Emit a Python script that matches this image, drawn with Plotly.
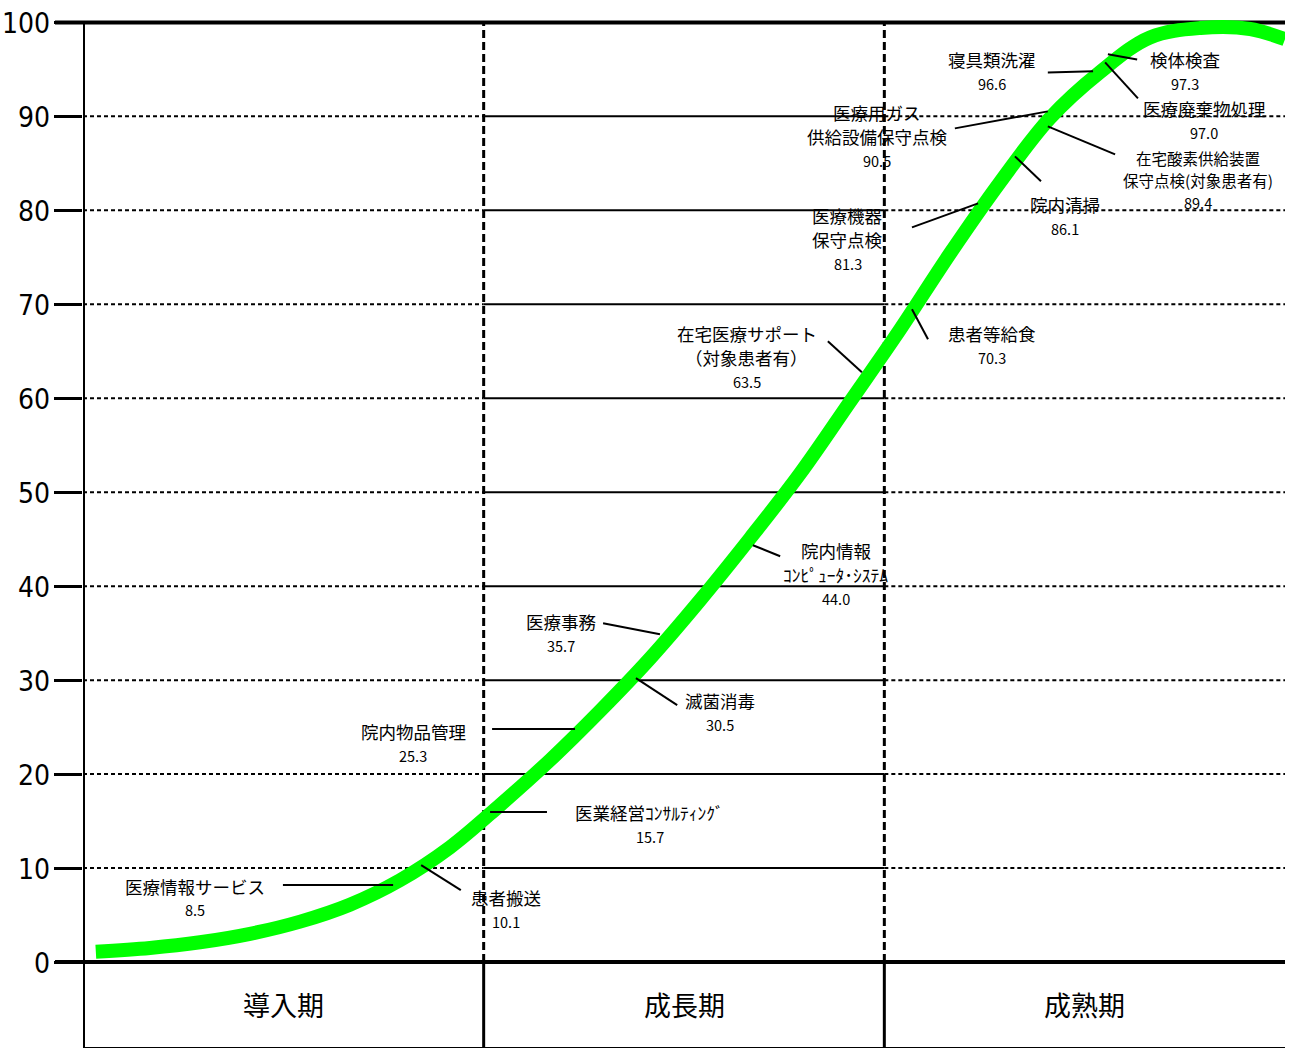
import plotly.graph_objects as go

# ---------------- data ----------------
stage_names = ["導入期", "成長期", "成熟期"]
y_tick_values = [0, 10, 20, 30, 40, 50, 60, 70, 80, 90, 100]

# S-curve (x in stage units 0..3, y in %)
curve_x = [0.032, 0.167, 0.292, 0.417, 0.542, 0.666, 0.791, 0.916, 1.041, 1.166,
           1.290, 1.415, 1.540, 1.665, 1.790, 1.914, 2.039, 2.164, 2.289, 2.413,
           2.538, 2.663, 2.789, 2.913, 3.000]
curve_y = [1.1, 1.5, 2.1, 3.0, 4.3, 6.1, 8.7, 12.2, 16.7, 21.5,
           26.7, 32.3, 38.5, 45.1, 52.0, 59.6, 67.3, 75.4, 83.0, 89.8,
           94.7, 98.4, 99.4, 99.3, 98.2]

item_names = [["医療情報サービス"], ["患者搬送"], ["医業経営ｺﾝｻﾙﾃｨﾝｸﾞ"], ["院内物品管理"],
              ["滅菌消毒"], ["医療事務"], ["院内情報", "ｺﾝﾋﾟｭｰﾀ･ｼｽﾃﾑ"],
              ["在宅医療サポート", "（対象患者有）"], ["患者等給食"], ["医療機器", "保守点検"],
              ["院内清掃"], ["医療用ガス", "供給設備保守点検"],
              ["在宅酸素供給装置", "保守点検(対象患者有)"], ["寝具類洗濯"], ["検体検査"],
              ["医療廃棄物処理"]]
item_values = [8.5, 10.1, 15.7, 25.3, 30.5, 35.7, 44.0, 63.5, 70.3, 81.3, 86.1,
               90.5, 89.4, 96.6, 97.3, 97.0]

# ---------------- label placement (layout only) ----------------
# (label x, first line y, line step, leader x0, y0, x1, y1, name font size)
placement = [
    (0.280, 8.09, 2.55, 0.499, 8.19, 0.774, 8.19, 17.5),
    (1.056, 6.91, 2.55, 0.844, 10.32, 0.943, 7.66, 17.5),
    (1.415, 15.96, 2.55, 1.016, 15.96, 1.158, 15.96, 17.5),
    (0.824, 24.57, 2.55, 1.021, 24.79, 1.228, 24.79, 17.5),
    (1.590, 27.87, 2.55, 1.380, 30.21, 1.483, 27.34, 17.5),
    (1.193, 36.28, 2.55, 1.298, 36.06, 1.440, 34.89, 17.5),
    (1.879, 43.83, 2.55, 1.672, 44.36, 1.740, 43.19, 17.5),
    (1.657, 66.91, 2.55, 1.859, 66.06, 1.944, 62.77, 17.5),
    (2.269, 66.91, 2.55, 2.069, 69.47, 2.109, 66.28, 17.5),
    (1.909, 79.47, 2.55, 2.069, 78.19, 2.234, 80.74, 17.5),
    (2.451, 80.64, 2.55, 2.326, 85.74, 2.391, 83.09, 17.5),
    (1.982, 90.43, 2.55, 2.176, 88.72, 2.408, 90.53, 17.5),
    (2.783, 85.53, 2.34, 2.408, 88.94, 2.576, 85.96, 15.5),
    (2.269, 96.06, 2.55, 2.408, 94.68, 2.521, 94.79, 17.5),
    (2.750, 96.06, 2.55, 2.558, 96.60, 2.631, 96.06, 17.5),
    (2.798, 90.85, 2.55, 2.551, 95.74, 2.633, 91.91, 17.5),
]

JP = "Noto Sans CJK JP"
NUM = "Liberation Sans Narrow, DejaVu Sans Condensed, Arial Narrow, sans-serif"
Y_BOTTOM = -9.15
Y_TOP = 101.0
PLOT_W = 1202

fig = go.Figure()

fig.add_trace(go.Scatter(
    x=curve_x, y=curve_y, mode="lines",
    line=dict(color="#00FF00", width=14, shape="spline", smoothing=1.0),
    hoverinfo="skip", showlegend=False,
))

shapes = []
# horizontal grid: dashed in stage 1 & 3, solid in stage 2
for v in y_tick_values[1:-1]:
    for s in range(3):
        shapes.append(dict(
            type="line", xref="x", yref="y", x0=s, x1=s + 1, y0=v, y1=v,
            line=dict(color="black", width=2, dash="solid" if s == 1 else "4px,3px"),
            layer="below"))
# 0 and 100 lines (thick, extend through tick area)
for v in (0, 100):
    shapes.append(dict(type="line", xref="paper", yref="y", x0=-28 / PLOT_W, x1=1,
                       y0=v, y1=v, line=dict(color="black", width=4), layer="below"))
# stage separators
for s in (1, 2):
    shapes.append(dict(type="line", xref="x", yref="y", x0=s, x1=s, y0=0, y1=100,
                       line=dict(color="black", width=3, dash="8px,4px"), layer="below"))
    shapes.append(dict(type="line", xref="x", yref="y", x0=s, x1=s, y0=Y_BOTTOM, y1=0,
                       line=dict(color="black", width=3), layer="below"))
# left axis line
shapes.append(dict(type="line", xref="x", yref="y", x0=0, x1=0, y0=Y_BOTTOM, y1=100,
                   line=dict(color="black", width=4), layer="below"))
# bottom line
shapes.append(dict(type="line", xref="x", yref="y", x0=0, x1=3, y0=Y_BOTTOM, y1=Y_BOTTOM,
                   line=dict(color="black", width=2), layer="below"))

annotations = []
for lines, val, p in zip(item_names, item_values, placement):
    lx, ly, step, x0, y0, x1, y1, fs = p
    shapes.append(dict(type="line", xref="x", yref="y", x0=x0, y0=y0, x1=x1, y1=y1,
                       line=dict(color="black", width=2), layer="above"))
    for k, t in enumerate(lines + [f"{val:.1f}"]):
        is_val = k == len(lines)
        annotations.append(dict(
            x=lx, y=ly - k * step, xref="x", yref="y", showarrow=False, text=t,
            font=dict(family=JP, size=14.5 if is_val else fs, color="black"),
            xanchor="center", yanchor="middle", align="center"))

for i, st in enumerate(stage_names):
    annotations.append(dict(
        x=i + 0.5, y=-4.57, xref="x", yref="y", showarrow=False, text=st,
        font=dict(family=JP, size=27, color="black"),
        xanchor="center", yanchor="middle"))

# y tick labels
for v in y_tick_values:
    annotations.append(dict(
        x=-31 / PLOT_W, y=v, xref="paper", yref="y", showarrow=False, text=str(v),
        font=dict(family=NUM, size=28, color="black"),
        xanchor="right", yanchor="middle", xshift=0, yshift=-1))

fig.update_layout(
    width=1293, height=1049,
    margin=dict(l=83, r=8, t=13, b=1),
    plot_bgcolor="white", paper_bgcolor="white",
    shapes=shapes, annotations=annotations, showlegend=False,
    xaxis=dict(range=[0, 3], visible=False, fixedrange=True),
    yaxis=dict(range=[Y_BOTTOM, Y_TOP], tickvals=y_tick_values,
               ticks="outside", ticklen=28, tickwidth=3, tickcolor="black",
               showticklabels=False, showgrid=False, zeroline=False, showline=False,
               fixedrange=True),
)

fig.write_html("out.html", config={"displayModeBar": False},
               post_script="document.body.style.margin='0';document.body.style.overflow='hidden';")
